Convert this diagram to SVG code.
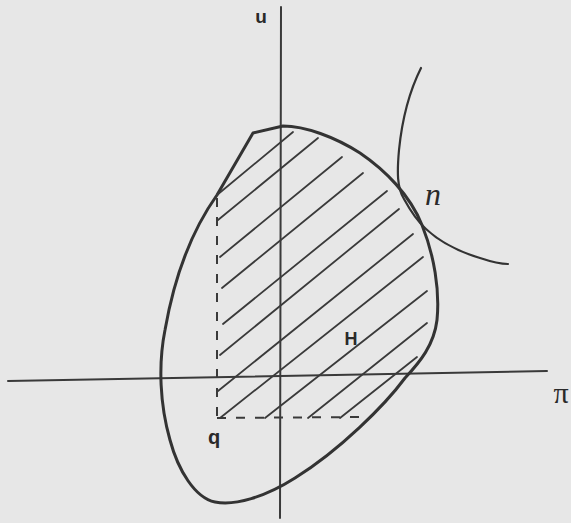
<svg xmlns="http://www.w3.org/2000/svg" width="571" height="523" viewBox="0 0 571 523">
<style>
.ax{stroke:#3a3a3a;stroke-width:2;fill:none;stroke-linecap:round}
.blob{stroke:#333;stroke-width:3;fill:none;stroke-linejoin:round}
.hatch{stroke:#3a3a3a;stroke-width:1.8;fill:none;stroke-linecap:round}
.dash{stroke:#3a3a3a;stroke-width:2;fill:none;stroke-dasharray:9 10}
.curve{stroke:#333;stroke-width:2.2;fill:none;stroke-linecap:round}
.lbl{font-family:"Liberation Sans",Arial,sans-serif;fill:#2a2a2a;font-weight:bold}
.ser{font-family:"Liberation Serif","Times New Roman",serif;fill:#2a2a2a}
</style>
<rect width="571" height="523" fill="#e7e7e7"/>
<g id="axes">
<line class="ax" x1="281" y1="7" x2="280" y2="518"/>
<line class="ax" x1="8" y1="381" x2="547" y2="371"/>
</g>
<g id="region">
<path class="blob" d="M253,133 L283,126 C305,126 335,137 360,153 C385,170 410,195 422,225 C434,255 440,290 437,320 C434,345 420,362 405,378 C385,405 340,450 295,478 C265,497 235,506 215,502 C195,498 178,470 170,440 C160,405 158,365 165,330 C172,290 185,240 217,195 L253,133 Z"/>
<line class="dash" x1="217" y1="198" x2="217" y2="418"/>
<line class="dash" x1="217" y1="418" x2="360" y2="417"/>
<g id="hatching">
<line class="hatch" x1="217" y1="195" x2="293" y2="132"/>
<line class="hatch" x1="218" y1="220" x2="318" y2="138"/>
<line class="hatch" x1="220" y1="257" x2="342" y2="157"/>
<line class="hatch" x1="222" y1="288" x2="363" y2="173"/>
<line class="hatch" x1="223" y1="324" x2="387" y2="191"/>
<line class="hatch" x1="220" y1="355" x2="399" y2="209"/>
<line class="hatch" x1="218" y1="391" x2="413" y2="234"/>
<line class="hatch" x1="220" y1="418" x2="423" y2="257"/>
<line class="hatch" x1="265" y1="418" x2="427" y2="291"/>
<line class="hatch" x1="308" y1="418" x2="427" y2="323"/>
<line class="hatch" x1="340" y1="418" x2="417" y2="357"/>
</g>
</g>
<g id="curve-n">
<path class="curve" d="M421,68 C410,90 402,120 399,150 C397,172 397,188 404,199 C410,210 416,220 426,229 C440,242 460,252 480,258 C492,262 500,264 508,264"/>
</g>
<g id="labels">
<text class="lbl" x="261" y="23" font-size="19" text-anchor="middle">u</text>
<text class="ser" x="433" y="205" font-size="32" font-style="italic" text-anchor="middle">n</text>
<text class="lbl" x="351" y="345" font-size="18" text-anchor="middle">H</text>
<text class="lbl" x="214" y="444" font-size="20" text-anchor="middle">q</text>
<text class="ser" x="561" y="403" font-size="30" text-anchor="middle">π</text>
</g>
</svg>
